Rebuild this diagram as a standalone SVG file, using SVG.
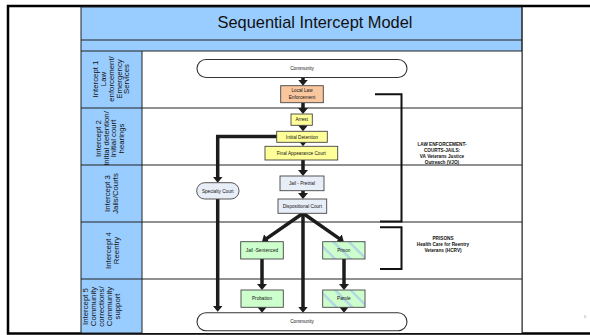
<svg xmlns="http://www.w3.org/2000/svg" width="590" height="335" viewBox="0 0 590 335">
<style>
text{font-family:"Liberation Sans",Arial,sans-serif;fill:#111}
.lbl{font-size:7.8px;text-anchor:middle}
.bx{font-size:4.7px;text-anchor:middle}
.note{font-size:4.7px;font-weight:bold;text-anchor:middle}
.grid{stroke:#222;stroke-width:1;fill:none}
.node{stroke:#444;stroke-width:0.9}
.term{fill:#fff;stroke:#333;stroke-width:1.1}
.conn{stroke:#1c1c1c;stroke-width:3.5;fill:none;marker-end:url(#ah)}
.brk{stroke:#111;stroke-width:2;fill:none}
</style>
<defs>
<marker id="ah" markerUnits="userSpaceOnUse" viewBox="0 0 7 10" markerWidth="7" markerHeight="10" refX="0.5" refY="5" orient="auto">
<path d="M0,0 L6,5 L0,10 z" fill="#1c1c1c"/>
</marker>
<pattern id="hatch" patternUnits="userSpaceOnUse" width="11" height="11" patternTransform="rotate(45)">
<rect width="11" height="11" fill="#CCFFCC"/>
<rect y="0" width="11" height="2.4" fill="#B4D4E4"/>
</pattern>
</defs>
<rect x="0" y="0" width="590" height="335" fill="#fff"/>
<g id="frame">
<rect x="8" y="6" width="600" height="327.5" fill="#fff" stroke="#000" stroke-width="2.5"/>
<rect x="81" y="7" width="441" height="326" fill="#99CCFF" stroke="#222" stroke-width="1"/>
<rect x="142" y="51" width="380" height="282" fill="#fff"/>
<path class="grid" d="M81,40 H522 M81,51 H522 M81,108 H522 M81,165 H522 M81,222 H522 M81,279 H522 M142,51 V333 M522,7 V333"/>
<text x="315" y="28" style="font-size:16.4px" text-anchor="middle">Sequential Intercept Model</text>
</g>
<g id="row-labels">
<text class="lbl" transform="translate(0,79) rotate(-90)"><tspan x="0" y="98.1">Intercept 1</tspan><tspan x="0" y="106">Law</tspan><tspan x="0" y="113.8">enforcement/</tspan><tspan x="0" y="121.6">Emergency</tspan><tspan x="0" y="129.4">Services</tspan></text>
<text class="lbl" transform="translate(0,138.5) rotate(-90)"><tspan x="0" y="100.8">Intercept 2</tspan><tspan x="0" y="108.5">Initial detention/</tspan><tspan x="0" y="116.2">Initial court</tspan><tspan x="0" y="124">hearings</tspan></text>
<text class="lbl" transform="translate(0,193.5) rotate(-90)"><tspan x="0" y="109.5">Intercept 3</tspan><tspan x="0" y="117.5">Jails/Courts</tspan></text>
<text class="lbl" transform="translate(0,250.5) rotate(-90)"><tspan x="0" y="110.8">Intercept 4</tspan><tspan x="0" y="118.5">Reentry</tspan></text>
<text class="lbl" transform="translate(0,306.5) rotate(-90)"><tspan x="0" y="88.1">Intercept 5</tspan><tspan x="0" y="96.1">Community</tspan><tspan x="0" y="104.1">corrections/</tspan><tspan x="0" y="112.1">Community</tspan><tspan x="0" y="120.1">support</tspan></text>
</g>
<g id="connectors">
<path class="conn" d="M303,77.5 V80.2"/>
<path class="conn" d="M303,102.7 V108.5"/>
<path class="conn" d="M303,123 V125.8"/>
<path class="conn" d="M303,140 V140.8"/>
<path class="conn" d="M303,160 V170.5"/>
<path class="conn" d="M303,190.7 V193.5"/>
<path class="conn" d="M303,213.3 V307.2"/>
<path class="conn" d="M303,213.3 L266.5,238.6"/>
<path class="conn" d="M303,213.3 L339.3,238.6"/>
<path class="conn" d="M262,259 V284.5"/>
<path class="conn" d="M344,259 V284.5"/>
<path class="conn" d="M262,305 V307.2"/>
<path class="conn" d="M344,305 V307.2"/>
<path class="conn" d="M278,136.5 H217.7 V177.2"/>
<path class="conn" d="M217.7,199 V306.2"/>
</g>
<g id="brackets">
<path class="brk" d="M375,94.3 H401.5 V221.5 H380"/>
<path class="brk" d="M380,227.3 H401.5 V269 H380"/>
</g>
<g id="community-top">
<rect class="term" x="197" y="59.5" width="210" height="18" rx="9"/>
<text class="bx" x="302" y="70.2">Community</text>
</g>
<g id="local-law-enforcement">
<rect class="node" x="280.7" y="85.7" width="42.6" height="17" fill="#F9C69E"/>
<text class="bx" x="302" y="92.2">Local Law</text>
<text class="bx" x="302" y="98.6">Enforcement</text>
</g>
<g id="arrest">
<rect class="node" x="291" y="114" width="21.3" height="11.3" fill="#FFFF99"/>
<text class="bx" x="301.7" y="121.3">Arrest</text>
</g>
<g id="initial-detention">
<rect class="node" x="276.7" y="131.3" width="50.6" height="11" fill="#FFFF99"/>
<text class="bx" x="302" y="138.5">Initial Detention</text>
</g>
<g id="final-appearance">
<rect class="node" x="265" y="146.3" width="72.7" height="13.7" fill="#FFFF99"/>
<text class="bx" x="301.3" y="154.8">Final Appearance Court</text>
</g>
<g id="jail-pretrial">
<rect class="node" x="280" y="176" width="44" height="14.7" fill="#E8EEF8"/>
<text class="bx" x="302" y="185">Jail - Pretrial</text>
</g>
<g id="dispositional-court">
<rect class="node" x="278" y="199" width="48.7" height="14.3" fill="#E8EEF8"/>
<text class="bx" x="302.3" y="207.8">Dispositional Court</text>
</g>
<g id="specialty-court">
<rect class="node" x="196.7" y="182.7" width="42.3" height="16.3" rx="8" fill="#E8EEF8" stroke="#333"/>
<text class="bx" x="217.8" y="192.5">Specialty Court</text>
</g>
<g id="jail-sentenced">
<rect class="node" x="240.7" y="241.7" width="42.6" height="17.3" fill="#CCFFCC"/>
<text class="bx" x="262" y="252">Jail -Sentenced</text>
</g>
<g id="prison">
<rect class="node" x="322.7" y="241.7" width="42.3" height="17.3" fill="url(#hatch)"/>
<text class="bx" x="343.8" y="252">Prison</text>
</g>
<g id="probation">
<rect class="node" x="241" y="290" width="42.3" height="17.3" fill="#CCFFCC"/>
<text class="bx" x="262" y="300.4">Probation</text>
</g>
<g id="parole">
<rect class="node" x="322.7" y="290" width="42.3" height="17.3" fill="url(#hatch)"/>
<text class="bx" x="343.8" y="300.4">Parole</text>
</g>
<g id="community-bottom">
<rect class="term" x="197" y="312.7" width="210" height="18" rx="9"/>
<text class="bx" x="302" y="323.4">Community</text>
</g>
<g id="note-le">
<text class="note"><tspan x="442" y="145.8">LAW ENFORCEMENT-</tspan><tspan x="442" y="151.7">COURTS-JAILS:</tspan><tspan x="442" y="157.6">VA Veterans Justice</tspan><tspan x="442" y="163.5">Outreach (VJO)</tspan></text>
</g>
<g id="note-prisons">
<text class="note"><tspan x="443" y="239.8">PRISONS</tspan><tspan x="443" y="245.7">Health Care for Reentry</tspan><tspan x="443" y="251.6">Veterans (HCRV)</tspan></text>
</g>
<text x="585" y="318" style="font-size:4px;fill:#999" text-anchor="middle">6</text>
</svg>
